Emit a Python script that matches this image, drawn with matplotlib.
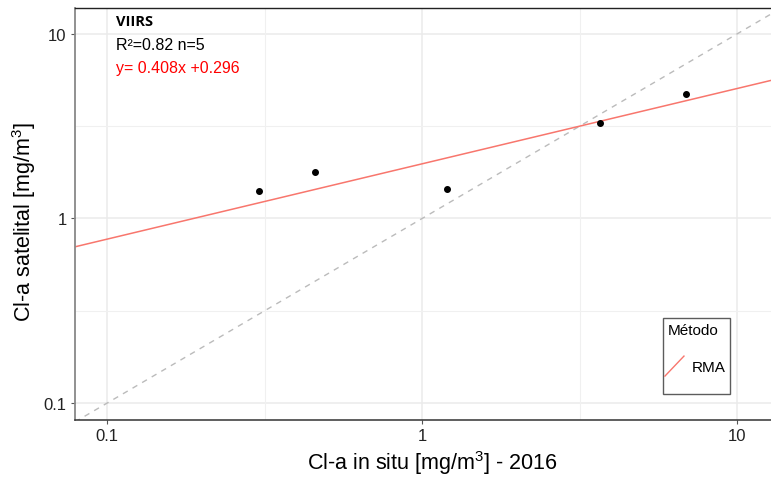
import matplotlib
matplotlib.use("Agg")
import matplotlib.pyplot as plt
import numpy as np
from matplotlib.legend_handler import HandlerLine2D
from matplotlib.lines import Line2D

plt.rcParams['font.family'] = ['Liberation Sans', 'DejaVu Sans']
plt.rcParams['mathtext.fontset'] = 'custom'
plt.rcParams['mathtext.rm'] = 'Liberation Sans'
plt.rcParams['mathtext.it'] = 'Liberation Sans:italic'

# Data
insitu = [0.304, 0.457, 1.20, 3.67, 6.89]
satellite = [1.40, 1.78, 1.45, 3.27, 4.70]
rma_slope = 0.408
rma_intercept = 0.296
x_limits = [0.0791, 12.8]
y_limits = [0.081, 13.8]
ticks = [0.1, 1, 10]
tick_labels = ["0.1", "1", "10"]

W, H = 771, 481
fig = plt.figure(figsize=(W / 100, H / 100), dpi=100)
ax = fig.add_axes([75 / W, (H - 421) / H, (771 - 75) / W, (421 - 9) / H])
ax.set_xscale('log')
ax.set_yscale('log')
ax.set_xlim(*x_limits)
ax.set_ylim(*y_limits)

# grid: majors at decades, minors at half-decades
for v in ticks:
    ax.axvline(v, color='#EBEBEB', lw=1.1, zorder=0)
    ax.axhline(v, color='#EBEBEB', lw=1.1, zorder=0)
for v in [10 ** -1.5, 10 ** -0.5, 10 ** 0.5, 10 ** 1.5]:
    ax.axvline(v, color='#F0F0F0', lw=0.8, zorder=0)
    ax.axhline(v, color='#F0F0F0', lw=0.8, zorder=0)

# 1:1 line
xx = np.logspace(np.log10(x_limits[0]), np.log10(x_limits[1]), 50)
ax.plot(xx, xx, color='#BBBBBB', lw=1.0, ls=(0, (4, 4)), zorder=1)

# RMA line in log space
yy = 10 ** (rma_slope * np.log10(xx) + rma_intercept)
ax.plot(xx, yy, color='#F8766D', lw=1.1, zorder=2, label='RMA')

ax.scatter(insitu, satellite, s=16, color='black', zorder=3)

ax.set_xticks(ticks)
ax.set_xticklabels(tick_labels)
ax.set_yticks(ticks)
ax.set_yticklabels(tick_labels)
ax.minorticks_off()
ax.tick_params(axis='both', which='major', length=3, width=0.8, color='#555555',
               labelsize=12, labelcolor='#222222', pad=3)

ax.spines['right'].set_visible(False)
ax.spines['left'].set_color('#888888')
ax.spines['left'].set_linewidth(1.3)
ax.spines['bottom'].set_color('#333333')
ax.spines['bottom'].set_linewidth(1.1)
ax.spines['top'].set_color('#222222')
ax.spines['top'].set_linewidth(1.0)

ax.set_xlabel('Cl-a in situ [mg/m$^3$] - 2016', fontsize=15.5)
ax.xaxis.set_label_coords((432 - 75) / (771 - 75), -(449 - 421) / (421 - 9))
ax.set_ylabel('Cl-a satelital [mg/m$^3$]', fontsize=15.5)
ax.yaxis.set_label_coords(-(75 - 38) / (771 - 75), (421 - 222) / (421 - 9))

fig.text(116 / W, 1 - 22 / H, 'VIIRS', fontsize=10.5, fontweight='bold',
         family=['Open Sans', 'DejaVu Sans'], va='center', ha='left')
fig.text(116 / W, 1 - 46 / H, 'R²=0.82 n=5', fontsize=11.5, va='center', ha='left')
fig.text(116 / W, 1 - 68 / H, 'y= 0.408x +0.296', fontsize=11.5, color='#FF0000',
         va='center', ha='left')


class DiagHandler(HandlerLine2D):
    # diagonal key line, coordinates in points relative to the text baseline
    def create_artists(self, legend, orig_handle, xdescent, ydescent, width, height,
                       fontsize, trans):
        line = Line2D([-1.9, 11.8], [-4.0, 10.4], color=orig_handle.get_color(),
                      lw=orig_handle.get_linewidth())
        line.set_transform(trans)
        return [line]


h = Line2D([], [], color='#F8766D', lw=1.0)
leg = ax.legend([h], ['RMA'], title='Método', loc='lower left',
                bbox_to_anchor=((663 - 75) / (771 - 75), (421 - 395) / (421 - 9)),
                frameon=True, fancybox=False, fontsize=11, title_fontsize=11,
                handler_map={Line2D: DiagHandler()}, handlelength=1.1, handleheight=2.0,
                borderpad=0.3, labelspacing=0.0, handletextpad=0.45, borderaxespad=0)
leg._legend_box.align = 'left'
leg.get_frame().set_edgecolor('#333333')
leg.get_frame().set_linewidth(1.0)
# adjust key box so the entry sits like the ggplot key
da = leg._legend_handle_box.get_children()[0].get_children()[0].get_children()[0]
da.height = 37.8
da.ydescent = 13.6

fig.savefig('out.png', dpi=100)
